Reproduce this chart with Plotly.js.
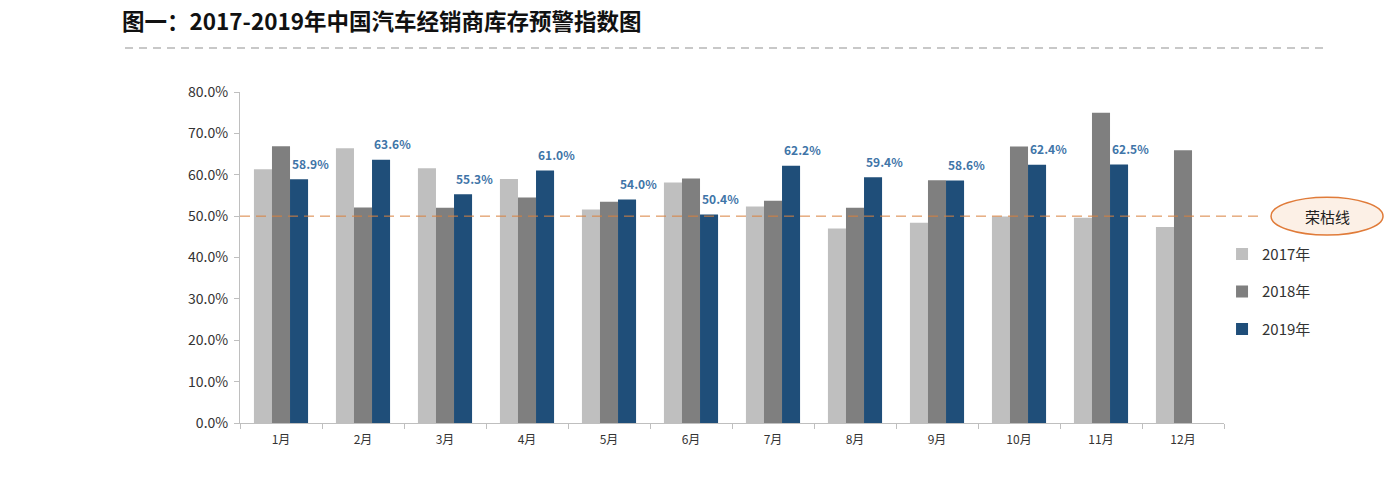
<!DOCTYPE html>
<html>
<head>
<meta charset="utf-8">
<script src="https://cdn.plot.ly/plotly-3.0.1.min.js"></script>
<style>
  html, body { margin: 0; padding: 0; background: #fff; }
  #chart { width: 1384px; height: 484px; }
</style>
</head>
<body>
<div id="chart"></div>
<script>
const months = ["1月","2月","3月","4月","5月","6月","7月","8月","9月","10月","11月","12月"];
const series2017 = [0.613, 0.664, 0.616, 0.590, 0.516, 0.581, 0.523, 0.470, 0.484, 0.499, 0.496, 0.474];
const series2018 = [0.669, 0.521, 0.520, 0.545, 0.535, 0.591, 0.537, 0.520, 0.587, 0.668, 0.750, 0.659];
const series2019 = [0.589, 0.636, 0.553, 0.610, 0.540, 0.504, 0.622, 0.594, 0.586, 0.624, 0.625, null];
const seriesNames = ["2017年", "2018年", "2019年"];
const warningLevel = 0.5;
const warningLabel = "荣枯线";
const chartTitle = "图一：2017-2019年中国汽车经销商库存预警指数图";

const font = "'Noto Sans CJK SC', 'Noto Sans', sans-serif";

const traces = [
  {type: "bar", name: seriesNames[0], x: months, y: series2017, marker: {color: "#bfbfbf"}, legendgroup: "a", hoverinfo: "skip"},
  {type: "bar", name: seriesNames[1], x: months, y: series2018, marker: {color: "#7f7f7f"}, legendgroup: "b", hoverinfo: "skip"},
  {type: "bar", name: seriesNames[2], x: months, y: series2019, marker: {color: "#1f4e79"}, legendgroup: "c", hoverinfo: "skip"}
];

const annotations = [];
months.forEach((m, i) => {
  const v = series2019[i];
  if (v === null) return;
  annotations.push({
    x: m, y: v, xref: "x", yref: "y",
    text: (v * 100).toFixed(1) + "%",
    showarrow: false, xshift: 29, yshift: 16,
    xanchor: "center", yanchor: "middle",
    font: {family: font, size: 12, color: "#3f75a8", weight: "bold"}
  });
});
annotations.push({
  x: 1.1047, y: 0.624, xref: "paper", yref: "paper",
  xanchor: "center", yanchor: "middle",
  text: warningLabel, showarrow: false,
  font: {family: font, size: 15, color: "#222"}
});

const layout = {
  width: 1384, height: 484,
  paper_bgcolor: "#fff", plot_bgcolor: "#fff",
  margin: {l: 240, r: 160, t: 92, b: 61},
  title: {
    text: "<b>" + chartTitle + "</b>",
    font: {family: font, size: 22.5, color: "#111"},
    x: 122 / 1384, xanchor: "left", xref: "container",
    y: 1 - 22 / 484, yanchor: "middle", yref: "container"
  },
  barmode: "group", bargap: 0.34, bargroupgap: 0,
  showlegend: true,
  legend: {
    x: 0.998, y: 0.56, xanchor: "left", yanchor: "top",
    font: {family: font, size: 15, color: "#333"},
    tracegroupgap: 15, traceorder: "grouped",
    bgcolor: "rgba(0,0,0,0)"
  },
  xaxis: {
    type: "category",
    showline: true, linecolor: "#bfbfbf", linewidth: 1,
    ticks: "outside", tickson: "boundaries", ticklen: 5, tickcolor: "#bfbfbf",
    tickfont: {family: font, size: 12, color: "#333"},
    ticklabelstandoff: 6,
    showgrid: false, zeroline: false, fixedrange: true
  },
  yaxis: {
    range: [0, 0.8], dtick: 0.1, tickformat: ".1%",
    showline: true, linecolor: "#bfbfbf", linewidth: 1,
    ticks: "outside", ticklen: 5, tickcolor: "#bfbfbf",
    tickfont: {family: font, size: 14, color: "#333"},
    ticklabelstandoff: 3,
    showgrid: false, zeroline: false, fixedrange: true
  },
  shapes: [
    {type: "line", xref: "paper", yref: "y", x0: 0, x1: 1.0386, y0: warningLevel, y1: warningLevel,
     line: {color: "#d9813f", width: 1, dash: "10px,6px"}},
    {type: "circle", xref: "paper", yref: "paper", x0: 1.0478, x1: 1.1616, y0: 0.568, y1: 0.682,
     fillcolor: "#fcf0e6", line: {color: "#e07b39", width: 1.5}, layer: "above"},
    {type: "line", xref: "paper", yref: "paper", x0: -115 / 984, x1: 1085 / 984, y0: (423 - 48) / 331, y1: (423 - 48) / 331,
     line: {color: "#c8c8c8", width: 2, dash: "8px,6px"}}
  ],
  annotations: annotations
};

Plotly.newPlot("chart", traces, layout, {displayModeBar: false, staticPlot: true});
</script>
</body>
</html>
